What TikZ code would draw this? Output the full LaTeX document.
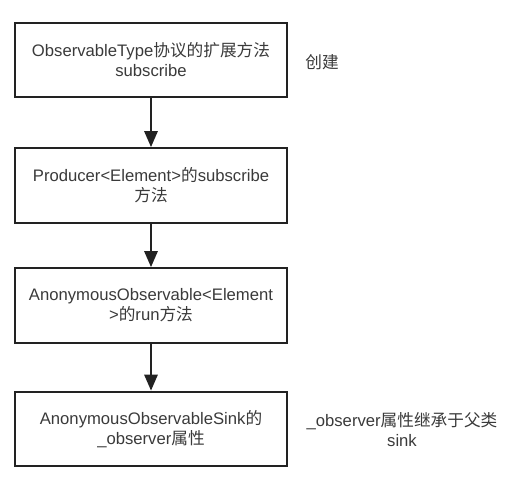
\documentclass[tikz,border=0pt]{standalone}
\usepackage{fontspec}
\setmainfont{Liberation Sans}
\newfontfamily\cjk{Noto Sans CJK SC}
\usetikzlibrary{arrows.meta}
\definecolor{txt}{HTML}{3A3A3A}
\definecolor{edge}{HTML}{222222}
\tikzset{
  flowbox/.style={draw=edge, line width=1.6pt, minimum width=204pt, minimum height=56pt, align=center, text=txt, font=\fontsize{12.5pt}{15pt}\selectfont, inner sep=2pt},
  note/.style={align=center, text=txt, font=\fontsize{12.5pt}{15pt}\selectfont},
  flowarrow/.style={draw=edge, fill=edge, line width=1.5pt, -{Triangle[width=10pt,length=12pt]}}
}
\begin{document}
\begin{tikzpicture}[x=0.75pt,y=-0.75pt]
\useasboundingbox (0,0) rectangle (510,482);
\node[flowbox] (b1) at (151,60) {ObservableType{\cjk 协议的扩展方法}\\subscribe};
\node[flowbox] (b2) at (151,185.5) {Producer<Element>{\cjk 的}subscribe\\{\cjk 方法}};
\node[flowbox] (b3) at (151,305.5) {AnonymousObservable<Element\\>{\cjk 的}run{\cjk 方法}};
\node[flowbox] (b4) at (151,429) {AnonymousObservableSink{\cjk 的}\\\_observer{\cjk 属性}};
\node[note] (n1) at (322,62) {\cjk 创建};
\node[note] (n2) at (402,430) {\_observer{\cjk 属性继承于父类}\\sink};
\draw[flowarrow] (b1) -- (b2);
\draw[flowarrow] (b2) -- (b3);
\draw[flowarrow] (b3) -- (b4);
\end{tikzpicture}
\end{document}
